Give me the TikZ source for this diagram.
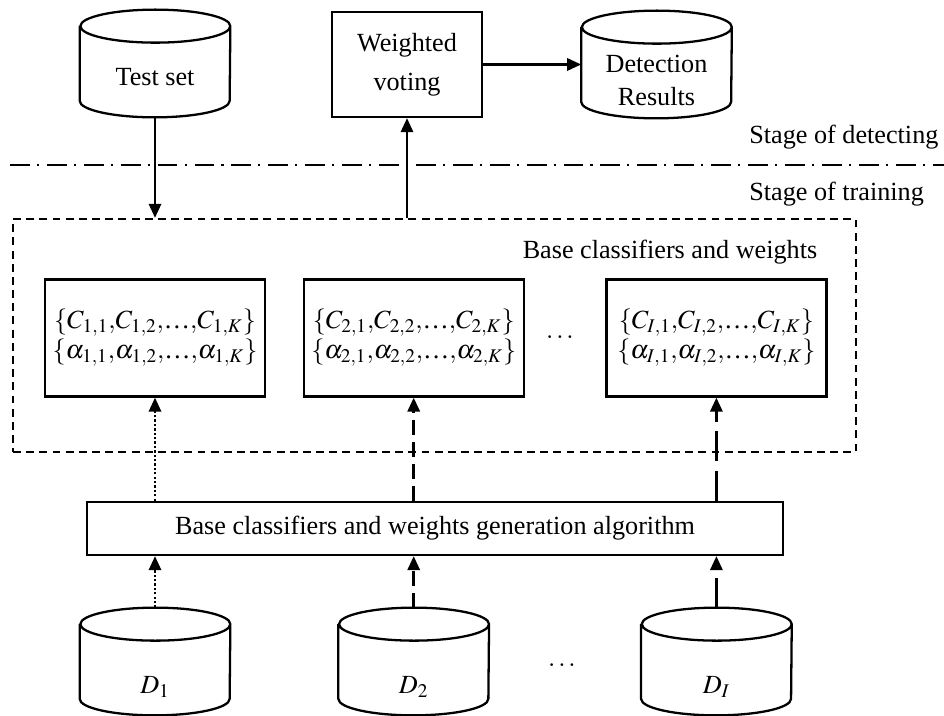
\documentclass[tikz,border=0pt]{standalone}
\usepackage{mathptmx}
\usepackage{fontspec}
\setmainfont{Liberation Serif}
\usetikzlibrary{arrows.meta,positioning}

\newcommand{\dbry}{0.33cm}
\newcommand{\ldts}{\mbox{\ldots}}

\tikzstyle{flow} = [-{Triangle[length=8pt,width=7pt]}, line width=1.4pt]
\tikzstyle{gen dot} = [flow, dash pattern=on 1.3pt off 1.2pt]
\tikzstyle{gen dash} = [flow, dash pattern=on 8.5pt off 4pt]
\tikzstyle{gen long} = [flow, dash pattern=on 17pt off 5.5pt]
\tikzstyle{stage line} = [line width=1.3pt, dash pattern=on 11.3pt off 4pt on 1.2pt off 4.5pt]
\tikzset{
  basic box/.style = {
    shape = rectangle,
    draw,
    line width=1.3pt,
    align=center,
    },
  vote box/.style = {
    basic box,
    minimum width=3cm,
    minimum height=2.1cm,
    },
  weight box/.style = {
    basic box,
    minimum width=4.4cm,
    minimum height=2.34cm,
    inner xsep=2pt,
    },
  dbase/.style = {
    shape=rectangle,
    inner sep=0pt,
    minimum width=3cm,
    minimum height=2.14cm,
    alias=this,
    append after command = {
        \pgfextra{
            \draw [line width=1.3pt]
                ([yshift=-\dbry]this.north west) -- ([yshift=\dbry]this.south west)
                arc[start angle=180, end angle=360, x radius=1.5cm, y radius=\dbry]
                -- ([yshift=-\dbry]this.north east)
                arc[start angle=0, end angle=360, x radius=1.5cm, y radius=\dbry];
        }
    }
  },
  group/.style = {
    shape = rectangle,
    draw,
    line width=1.3pt,
    dash pattern=on 4.5pt off 3pt,
    },
}

\begin{document}
\begin{tikzpicture}[font=\fontsize{14.9}{17}\selectfont]
    \useasboundingbox (0,0) rectangle (18.88,14.32);

    % detecting
    \node [dbase, label={[yshift=-0.27cm]center:Test set}] (test) at (3.1,13.05) {};
    \node [vote box] (vote) at (8.14,13.03) {Weighted\\[5pt]voting};
    \node [dbase, right=1.96cm of vote,
        label={[yshift=-0.32cm,align=center]center:Detection\\[2pt]Results}] (res) {};

    % stages
    \coordinate (sl) at (0.2,11.02);
    \coordinate (sr) at (18.88,11.02);
    \draw[stage line] (sl) -- (sr);
    \node [anchor=west, inner sep=0pt] (det) at (14.98,11.58) {Stage of detecting};
    \node [anchor=west, inner sep=0pt] (trn) at (14.98,10.44) {Stage of training};

    % training data
    \node [dbase, label={[yshift=-0.51cm]center:$D_1$}] (d1) at (3.1,1.09) {};
    \node [dbase, right=2.16cm of d1, label={[yshift=-0.51cm]center:$D_2$}] (d2) {};
    \node [dbase, right=3.04cm of d2, label={[yshift=-0.51cm]center:$D_I$}] (dI) {};
    \node (ddots) at (11.24,1.02) {$\ldots$};

    \node [basic box, minimum width=13.92cm, minimum height=1.06cm] (algo) at (8.7,3.75)
        {Base classifiers and weights generation algorithm};

    % base classifiers
    \node [group, minimum width=16.86cm, minimum height=4.66cm] (cls) at (8.69,7.61) {};
    \node (clsname) at (13.4,9.28) {Base classifiers and weights};

    \node [weight box, above=4.2cm of d1] (w1)
        {$\{C_{1,1}{,}C_{1,2}{,}\ldts{,}C_{1,K}\}$\\$\{\alpha_{1,1}{,}\alpha_{1,2}{,}\ldts{,}\alpha_{1,K}\}$};
    \node [weight box, above=4.2cm of d2] (w2)
        {$\{C_{2,1}{,}C_{2,2}{,}\ldts{,}C_{2,K}\}$\\$\{\alpha_{2,1}{,}\alpha_{2,2}{,}\ldts{,}\alpha_{2,K}\}$};
    \node [weight box, above=4.2cm of dI] (wI)
        {$\{C_{I,1}{,}C_{I,2}{,}\ldts{,}C_{I,K}\}$\\$\{\alpha_{I,1}{,}\alpha_{I,2}{,}\ldts{,}\alpha_{I,K}\}$};
    \node (wdots) at (11.2,7.58) {$\ldots$};

    % Paths
    \draw[flow] (test.south) -- (test.south |- cls.north);
    \draw[flow] (vote.south |- cls.north) -- (vote.south);
    \draw[flow] (vote) -- (res);

    \draw[gen dot] (d1.north) -- (d1.north |- algo.south);
    \draw[gen dash] (d2.north) -- (d2.north |- algo.south);
    \draw[gen long] (dI.north) -- (dI.north |- algo.south);

    \draw[gen dot] (w1.south |- algo.north) -- (w1.south);
    \draw[gen dash] (w2.south |- algo.north) -- (w2.south);
    \draw[gen long] (wI.south |- algo.north) -- (wI.south);
\end{tikzpicture}
\end{document}
